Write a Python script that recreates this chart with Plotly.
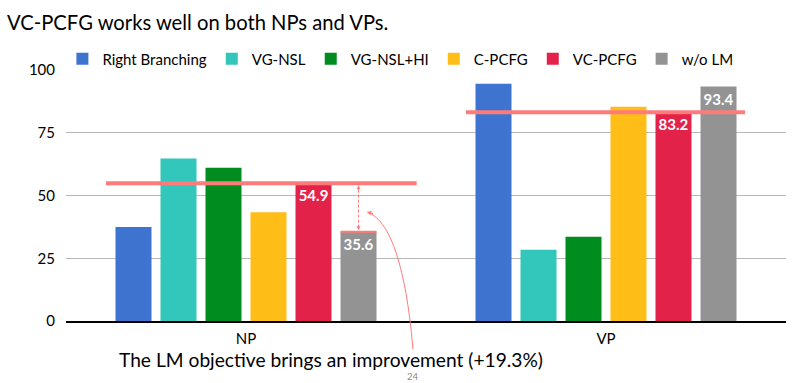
import plotly.graph_objects as go

# ---------------- data ----------------
categories = ["NP", "VP"]
series_names = ["Right Branching", "VG-NSL", "VG-NSL+HI", "C-PCFG", "VC-PCFG", "w/o LM"]
right_branching = [37.5, 94.5]
vg_nsl = [64.7, 28.4]
vg_nsl_hi = [61.1, 33.6]
c_pcfg = [43.3, 85.4]
vc_pcfg = [54.9, 83.2]
wo_lm = [35.6, 93.4]
y_ticks = [0, 25, 50, 75, 100]
labelled_series = ["VC-PCFG", "w/o LM"]

colors = ["#3e74d0", "#33c6bb", "#018c1f", "#ffbd18", "#e32249", "#939393"]
salmon = "#ff7b7b"
FONT = "Lato"

values = [right_branching, vg_nsl, vg_nsl_hi, c_pcfg, vc_pcfg, wo_lm]

fig = go.Figure()
for name, vals, col in zip(series_names, values, colors):
    txt = [f"{v:.1f}" for v in vals] if name in labelled_series else None
    fig.add_trace(go.Bar(
        name=name, x=categories, y=vals, marker_color=col, marker_line_width=0,
        text=txt, textposition="inside" if txt else None, insidetextanchor="end",
        textangle=0, constraintext="none",
        textfont=dict(family=FONT, size=15, color="white", weight="bold"),
        hoverinfo="skip",
    ))

BARGAP, GROUPGAP = 0.25, 0.2
n = len(series_names)
slot = (1 - BARGAP) / n


def bar_center(cat_idx, series_idx):
    return cat_idx - (1 - BARGAP) / 2 + slot * (series_idx + 0.5)


# highlight lines at VC-PCFG level (extents relative to category centre)
line_extents = [(-0.389, 0.474), (-0.389, 0.386)]
for ci, (x0, x1) in enumerate(line_extents):
    fig.add_shape(type="line", xref="x", yref="y", x0=ci + x0, x1=ci + x1,
                  y0=vc_pcfg[ci], y1=vc_pcfg[ci],
                  line=dict(color=salmon, width=4), layer="above")

# thin line on top of w/o LM NP bar
wi = series_names.index("w/o LM")
xc = bar_center(0, wi)
half = slot * (1 - GROUPGAP) / 2
fig.add_shape(type="line", xref="x", yref="y", x0=xc - half, x1=xc + half,
              y0=wo_lm[0], y1=wo_lm[0], line=dict(color=salmon, width=2), layer="above")

# dashed double arrow between the two levels
top_tip = vc_pcfg[0] - 0.8
bot_tip = wo_lm[0] + 0.6
fig.add_shape(type="line", xref="x", yref="y", x0=xc, x1=xc, y0=bot_tip + 1, y1=top_tip - 1,
              line=dict(color=salmon, width=1, dash="3px,2px"), layer="above")
for tip, ay in [(top_tip, 6), (bot_tip, -6)]:
    fig.add_annotation(x=xc, y=tip, xref="x", yref="y", text="", showarrow=True,
                       ax=0, ay=ay, arrowhead=2, arrowsize=0.8, arrowwidth=1, arrowcolor=salmon)

# curved arrow from the note to the gap
L, R, T, B = 66, 19, 70, 61.5
W, H = 805, 383
pw, ph = W - L - R, H - T - B


def px(x):
    return (x - L) / pw


def py(y):
    return (H - B - y) / ph


pts = [(413, 350), (408, 290), (396, 225), (369, 213)]
path = "M {:.4f},{:.4f} C {:.4f},{:.4f} {:.4f},{:.4f} {:.4f},{:.4f}".format(
    *[c for p in pts for c in (px(p[0]), py(p[1]))])
fig.add_shape(type="path", xref="paper", yref="paper", path=path,
              line=dict(color=salmon, width=1), layer="above")
fig.add_annotation(x=px(366.7), y=py(212.3), xref="paper", yref="paper", text="",
                   showarrow=True, ax=8, ay=2, arrowhead=2, arrowsize=0.9,
                   arrowwidth=1, arrowcolor=salmon)

# note text and page number
fig.add_annotation(x=px(117), y=py(360), xref="paper", yref="paper", xanchor="left",
                   yanchor="middle", showarrow=False,
                   text="The LM objective brings an improvement (+19.3%)",
                   font=dict(family=FONT, size=19.2, color="black"))
fig.add_annotation(x=px(413), y=py(377.3), xref="paper", yref="paper", xanchor="center",
                   yanchor="middle", showarrow=False, text="24",
                   font=dict(family=FONT, size=9.5, color="#888888"))

fig.update_layout(
    width=W, height=H,
    margin=dict(l=L, r=R, t=T, b=B, pad=0),
    paper_bgcolor="white", plot_bgcolor="white",
    barmode="group", bargap=BARGAP, bargroupgap=GROUPGAP,
    title=dict(text="VC-PCFG works well on both NPs and VPs.", x=7 / W, xanchor="left",
               xref="container", y=1 - 23 / H, yref="container", yanchor="middle",
               font=dict(family=FONT, size=20.2, color="black")),
    legend=dict(orientation="h", x=-0.005, xanchor="left", y=1 + 11 / ph, yanchor="middle",
                font=dict(family=FONT, size=15, color="black"), bgcolor="rgba(0,0,0,0)",
                traceorder="normal"),
    font=dict(family=FONT, color="black"),
    showlegend=True,
)
fig.update_yaxes(range=[0, 100], tickvals=y_ticks, showgrid=True, gridcolor="#b7b7b7",
                 gridwidth=1, zeroline=False, showline=False,
                 tickfont=dict(family=FONT, size=15, color="black"), ticklabelstandoff=10)
fig.update_xaxes(showline=True, linecolor="black", linewidth=1.5, showgrid=False,
                 tickfont=dict(family=FONT, size=15, color="black"), ticklabelstandoff=3)

fig.write_html("out.html", config={"displayModeBar": False},
               post_script="document.body.style.margin='0';document.body.style.overflow='hidden';")
